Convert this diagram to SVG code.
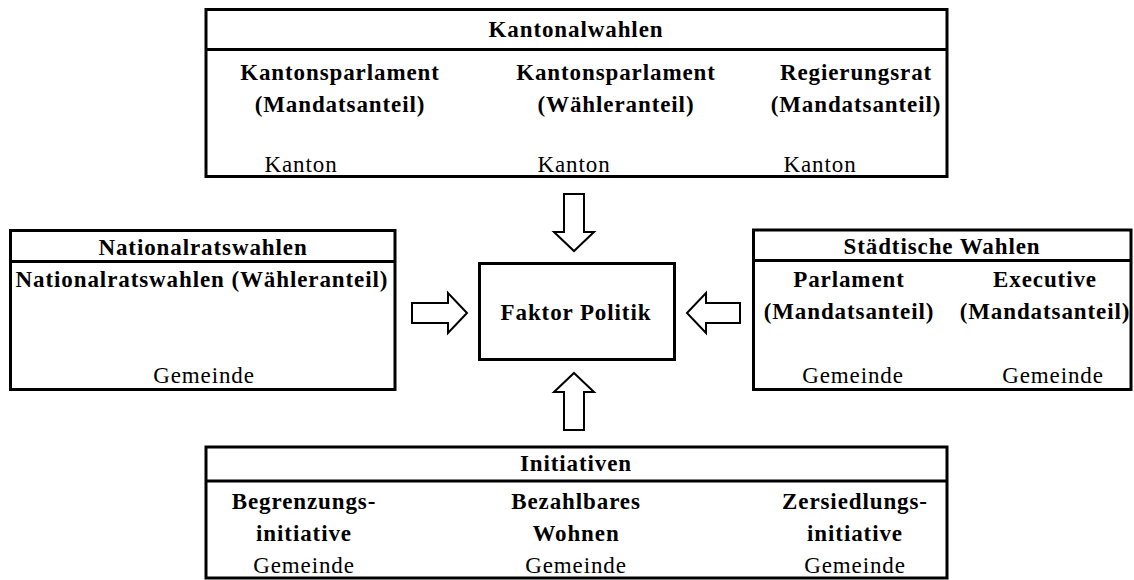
<svg xmlns="http://www.w3.org/2000/svg" width="1134" height="580" viewBox="0 0 1134 580">
<style>
.box{fill:#fff;stroke:#000;stroke-width:3}
.sep{stroke:#000;stroke-width:3}
.arr{fill:#fff;stroke:#000;stroke-width:2;stroke-linejoin:miter}
text{font-family:"Liberation Serif","Times New Roman",serif;font-size:23px;fill:#000;text-anchor:middle;letter-spacing:0.9px}
.b{font-weight:bold}
</style>
<rect width="1134" height="580" fill="#fff"/>
<g id="kantonalwahlen">
<rect class="box" x="206" y="9.5" width="741" height="167"/>
<line class="sep" x1="206" y1="49.5" x2="947" y2="49.5"/>
<text class="b" x="576" y="37">Kantonalwahlen</text>
<text class="b" x="340" y="80">Kantonsparlament</text>
<text class="b" x="340" y="112">(Mandatsanteil)</text>
<text class="b" x="616" y="80">Kantonsparlament</text>
<text class="b" x="616" y="112">(Wähleranteil)</text>
<text class="b" x="856" y="80">Regierungsrat</text>
<text class="b" x="856" y="112">(Mandatsanteil)</text>
<text x="301" y="172">Kanton</text>
<text x="574" y="172">Kanton</text>
<text x="820" y="172">Kanton</text>
</g>
<g id="nationalratswahlen">
<rect class="box" x="10.5" y="230.5" width="384.5" height="159"/>
<line class="sep" x1="10.5" y1="261.5" x2="395" y2="261.5"/>
<text class="b" x="203" y="255">Nationalratswahlen</text>
<text class="b" x="202" y="287">Nationalratswahlen (Wähleranteil)</text>
<text x="204" y="383">Gemeinde</text>
</g>
<g id="faktor-politik">
<rect class="box" x="479.5" y="263.5" width="195" height="96"/>
<text class="b" x="576" y="320">Faktor Politik</text>
</g>
<g id="staedtische-wahlen">
<rect class="box" x="753.5" y="230" width="377.5" height="159.5"/>
<line class="sep" x1="753.5" y1="260.5" x2="1131" y2="260.5"/>
<text class="b" x="942" y="254">Städtische Wahlen</text>
<text class="b" x="849" y="287">Parlament</text>
<text class="b" x="849" y="319">(Mandatsanteil)</text>
<text class="b" x="1045" y="287">Executive</text>
<text class="b" x="1045" y="319">(Mandatsanteil)</text>
<text x="853" y="383">Gemeinde</text>
<text x="1053" y="383">Gemeinde</text>
</g>
<g id="initiativen">
<rect class="box" x="206" y="447" width="741" height="131"/>
<line class="sep" x1="206" y1="481" x2="947" y2="481"/>
<text class="b" x="576" y="471">Initiativen</text>
<text class="b" x="304" y="509">Begrenzungs-</text>
<text class="b" x="304" y="541">initiative</text>
<text x="304" y="573">Gemeinde</text>
<text class="b" x="576" y="509">Bezahlbares</text>
<text class="b" x="576" y="541">Wohnen</text>
<text x="576" y="573">Gemeinde</text>
<text class="b" x="855" y="509">Zersiedlungs-</text>
<text class="b" x="855" y="541">initiative</text>
<text x="855" y="573">Gemeinde</text>
</g>
<g id="connectors">
<polygon class="arr" points="564,194 584,194 584,232 594,232 574,251 554,232 564,232"/>
<polygon class="arr" points="574,373 594,392 584,392 584,430 564,430 564,392 554,392"/>
<polygon class="arr" points="412,303 448,303 448,293 467,313 448,333 448,323 412,323"/>
<polygon class="arr" points="687,313 706,293 706,303 740,303 740,323 706,323 706,333"/>
</g>
</svg>
